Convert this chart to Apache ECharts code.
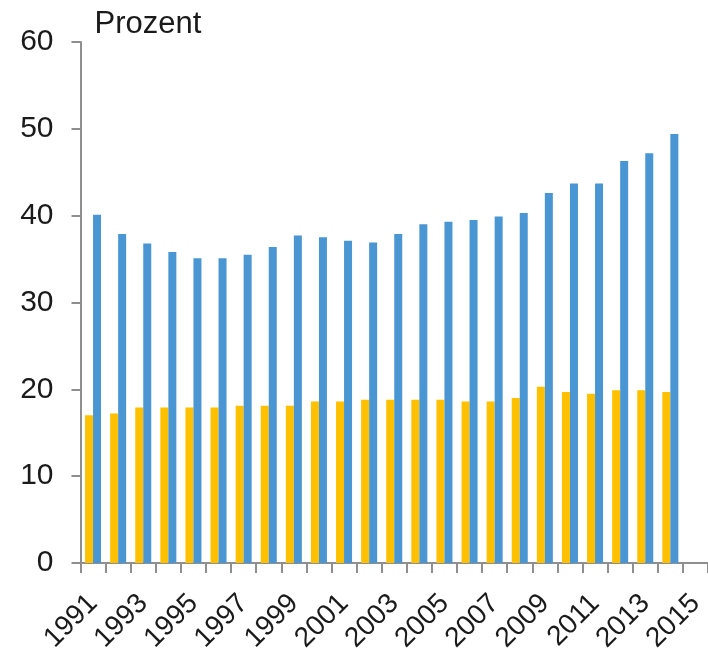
<!DOCTYPE html>
<html>
<head>
<meta charset="utf-8">
<script src="https://cdn.jsdelivr.net/npm/echarts@6/dist/echarts.min.js"></script>
<style>
  html, body { margin: 0; padding: 0; background: #fff; }
  #chart { width: 708px; height: 655px; }
</style>
</head>
<body>
<div id="chart"></div>
<script>
// Jahre 1991-2015 (2015 ohne Werte)
const years = ['1991','1992','1993','1994','1995','1996','1997','1998','1999','2000',
  '2001','2002','2003','2004','2005','2006','2007','2008','2009','2010',
  '2011','2012','2013','2014','2015'];
const yellowValues = [17.0, 17.2, 17.9, 17.9, 17.9, 17.9, 18.1, 18.1, 18.1, 18.6,
  18.6, 18.8, 18.8, 18.8, 18.8, 18.6, 18.6, 19.0, 20.3, 19.7,
  19.5, 19.9, 19.9, 19.7, '-'];
const blueValues = [40.1, 37.9, 36.8, 35.8, 35.1, 35.1, 35.5, 36.4, 37.7, 37.5,
  37.1, 36.9, 37.9, 39.0, 39.3, 39.5, 39.9, 40.3, 42.6, 43.7,
  43.7, 46.3, 47.2, 49.4, '-'];
const yTicks = { min: 0, max: 60, interval: 10 };

const chart = echarts.init(document.getElementById('chart'));
const axisGray = '#8f8f8f';
const textFont = 'Liberation Sans, Arial, sans-serif';

chart.setOption({
  animation: false,
  grid: { left: 80.5, right: -11.8, top: 42, bottom: 89.5, containLabel: false },
  xAxis: {
    type: 'category',
    data: years,
    boundaryGap: true,
    axisLine: { lineStyle: { color: axisGray, width: 2 } },
    axisTick: { show: true, length: 10, interval: 0, lineStyle: { color: axisGray, width: 2 } },
    axisLabel: {
      interval: 1,
      rotate: 45,
      margin: 36,
      fontSize: 28,
      color: '#1a1a1a',
      fontFamily: textFont
    },
    splitLine: { show: false }
  },
  yAxis: {
    type: 'value',
    min: yTicks.min,
    max: yTicks.max,
    interval: yTicks.interval,
    name: 'Prozent',
    nameLocation: 'end',
    nameGap: 2,
    nameTextStyle: {
      align: 'left',
      verticalAlign: 'bottom',
      fontSize: 31,
      color: '#1a1a1a',
      fontFamily: textFont,
      padding: [0, 0, 0, 14]
    },
    axisLine: { show: true, lineStyle: { color: axisGray, width: 2 } },
    axisTick: { show: true, length: 9, lineStyle: { color: axisGray, width: 2 } },
    axisLabel: { margin: 27, fontSize: 30, color: '#1a1a1a', fontFamily: textFont },
    splitLine: { show: false }
  },
  series: [
    {
      type: 'bar',
      data: yellowValues,
      barWidth: 8,
      barGap: '0%',
      itemStyle: { color: '#FFC000' }
    },
    {
      type: 'bar',
      data: blueValues,
      barWidth: 8,
      barGap: '0%',
      itemStyle: { color: '#4A96D2' }
    }
  ]
});
</script>
</body>
</html>
